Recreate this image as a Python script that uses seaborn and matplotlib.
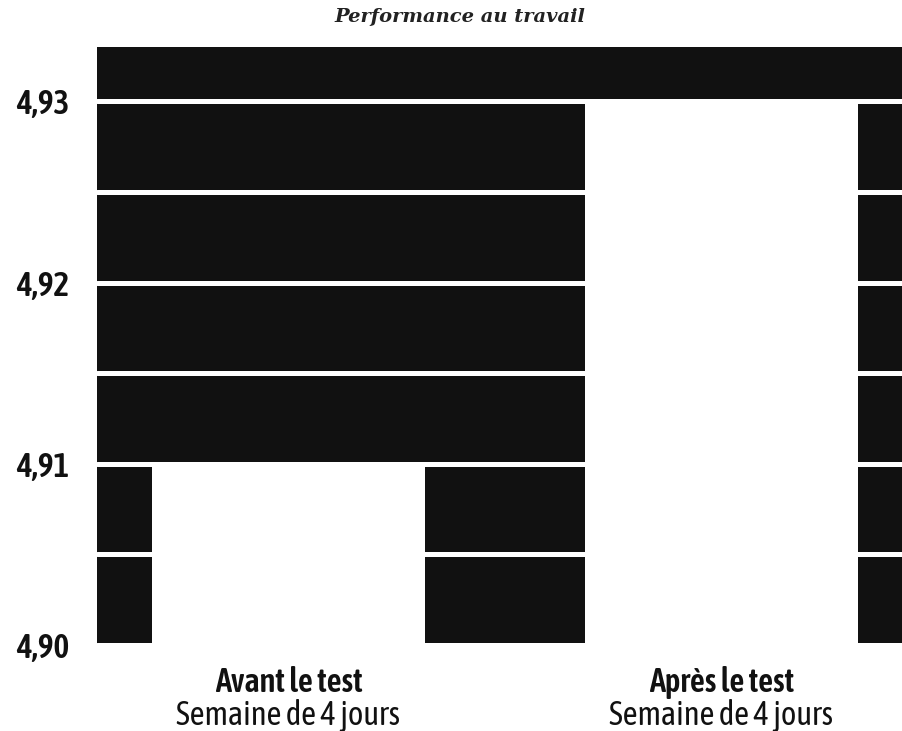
import matplotlib
matplotlib.use("Agg")
import matplotlib.pyplot as plt
from matplotlib import font_manager
import seaborn as sns
import pandas as pd

# data
categories = ["Avant le test", "Après le test"]
sub_labels = ["Semaine de 4 jours", "Semaine de 4 jours"]
performance = [4.910, 4.930]
y_ticks = [4.90, 4.91, 4.92, 4.93]
y_tick_labels = ["4,90", "4,91", "4,92", "4,93"]
title = "Performance au travail"

df = pd.DataFrame({"periode": categories, "score": performance})


def wnum(w):
    if isinstance(w, str):
        return font_manager.weight_dict.get(w, 400)
    return w


# a narrow sans with a real bold if one is around, else Liberation Sans
weights = {}
for f in font_manager.fontManager.ttflist:
    if f.style == "normal":
        weights.setdefault(f.name, set()).add(wnum(f.weight))
face = None
for n in sorted(weights):
    if ("Narrow" in n or "Condensed" in n) and max(weights[n]) >= 600 \
            and any(350 <= w <= 500 for w in weights[n]):
        face = n
        break
if face:
    tick_fs, lab_fs = 24, 23.5
else:
    face, tick_fs, lab_fs = "Liberation Sans", 20, 19.5
fam = [face, "DejaVu Sans"]

sns.set_theme(style="white")
plt.rcParams["font.family"] = fam
ink = "#111111"

fig = plt.figure(figsize=(9.02, 7.31), dpi=100)
ax = fig.add_axes([0.1075, 0.1176, 0.8925, 0.8181])
ax.set_facecolor(ink)

sns.barplot(data=df, x="periode", y="score", color="white", width=0.63,
            saturation=1, linewidth=0, ax=ax)

ax.set_ylim(4.90, 4.933)
ax.set_xlim(-0.442, 1.417)
ax.set_axisbelow(True)
ax.set_yticks(y_ticks)
ax.set_yticks([4.905, 4.915, 4.925], minor=True)
ax.set_yticklabels(y_tick_labels, fontsize=tick_fs, fontweight=600, color=ink)
ax.grid(axis="y", which="both", color="white", linewidth=3.6)
ax.grid(axis="x", visible=False)
ax.tick_params(axis="y", which="both", length=0, pad=20)
ax.set_xticks([0, 1])
ax.set_xticklabels([])
ax.tick_params(axis="x", length=0)
ax.set_xlabel("")
ax.set_ylabel("")
for s in ax.spines.values():
    s.set_visible(False)

for i, (c, s) in enumerate(zip(categories, sub_labels)):
    ax.text(i, -0.0786, c, transform=ax.get_xaxis_transform(), ha="center", va="baseline",
            fontsize=lab_fs, fontweight=600, color=ink)
    ax.text(i, -0.134, s, transform=ax.get_xaxis_transform(), ha="center", va="baseline",
            fontsize=lab_fs, color=ink)

fig.text(0.51, 0.977, title, ha="center", va="center", fontsize=14,
         fontstyle="italic", fontweight="bold", family="DejaVu Serif", color="#222222")

fig.savefig("out.png", dpi=100)
